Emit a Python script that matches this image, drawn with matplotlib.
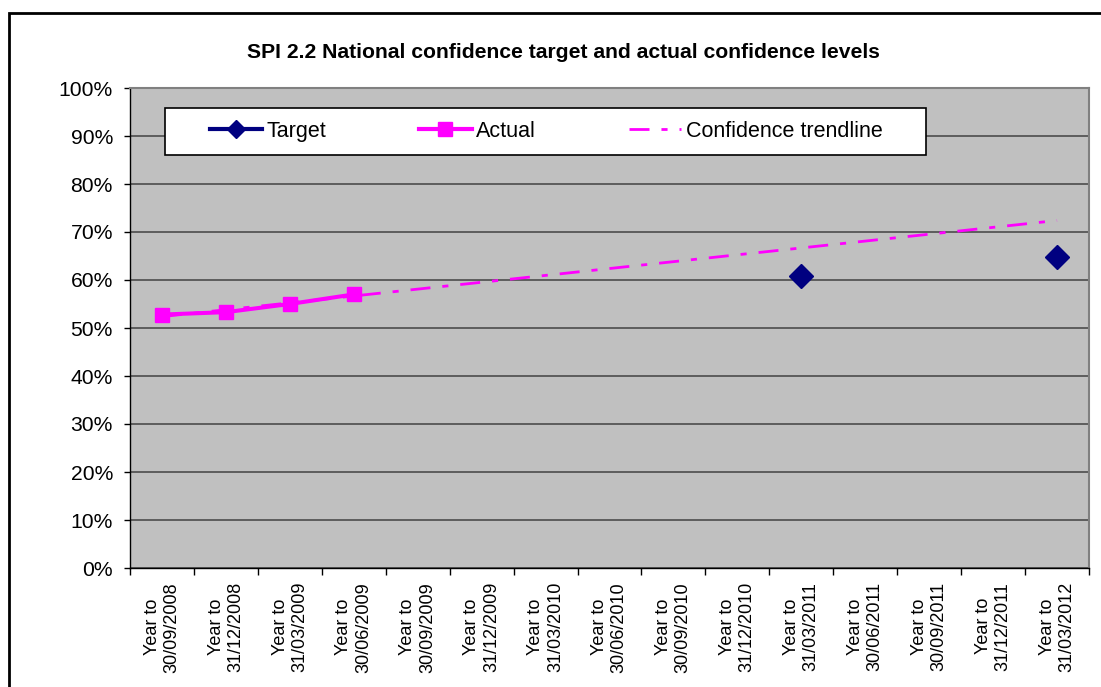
import numpy as np
import matplotlib
matplotlib.use("Agg")
import matplotlib.pyplot as plt
from matplotlib.patches import Rectangle
from matplotlib.lines import Line2D

# quarter labels on the x axis
periods = ["30/09/2008", "31/12/2008", "31/03/2009", "30/06/2009", "30/09/2009",
           "31/12/2009", "31/03/2010", "30/06/2010", "30/09/2010", "31/12/2010",
           "31/03/2011", "30/06/2011", "30/09/2011", "31/12/2011", "31/03/2012"]
# actual confidence, first four quarters
actual_idx = [0, 1, 2, 3]
actual = [0.528, 0.533, 0.550, 0.570]
# targets
target_idx = [10, 14]
target = [0.608, 0.648]

plt.rcParams['font.family'] = ['Liberation Sans', 'DejaVu Sans']

fig = plt.figure(figsize=(11.01, 6.87), dpi=100)
W, H = 1101.0, 687.0

def fx(px):
	return px / W

def fy(py):
	return 1 - py / H

# outer chart border
fig.patches.append(Rectangle((fx(9), -0.2), 1.2, fy(13) + 0.2, transform=fig.transFigure,
                             fill=False, edgecolor='black', linewidth=2, zorder=0))

ax = fig.add_axes([fx(130), fy(568), fx(1089) - fx(130), fy(88) - fy(568)])
ax.set_facecolor('#C0C0C0')

trend_style = (0, (7.2, 4.3, 2.2, 4.3))

# trendline = linear fit of the actual values, extended over all quarters
coef = np.polyfit(actual_idx, actual, 1)
xs = np.arange(len(periods))
ax.plot(xs, np.polyval(coef, xs), color='#FF00FF', linewidth=2,
        linestyle=trend_style, zorder=3)

ax.plot(actual_idx, actual, color='#FF00FF', linewidth=2.9, marker='s',
        markersize=10, markeredgewidth=1, zorder=4)
ax.plot(target_idx, target, color='#000080', linestyle='none', marker='D',
        markersize=12.5, markeredgewidth=1, zorder=4)

ax.set_xlim(-0.5, len(periods) - 0.5)
ax.set_ylim(0, 1)
ax.set_yticks(np.arange(0, 1.01, 0.1))
ax.set_yticklabels(["{:d}%".format(int(round(v * 100))) for v in np.arange(0, 1.01, 0.1)])
ax.yaxis.grid(True, color='#555555', linewidth=1.3)
ax.set_axisbelow(True)

ax.set_xticks(xs)
ax.set_xticklabels(["Year to\n" + p for p in periods], rotation=90, va='top',
                   ha='center', multialignment='center')
ax.set_xticks(np.arange(-0.5, len(periods), 1), minor=True)
ax.tick_params(axis='x', which='major', length=0, pad=10, labelsize=13)
ax.tick_params(axis='x', which='minor', length=5, width=1, direction='out')
ax.tick_params(axis='y', length=4.3, width=1, direction='out', pad=8, labelsize=15.2)

for side in ['top', 'right']:
	ax.spines[side].set_color('#808080')
	ax.spines[side].set_linewidth(1.5)
for side in ['left', 'bottom']:
	ax.spines[side].set_color('black')
	ax.spines[side].set_linewidth(1)

fig.text(fx(563), fy(52), "SPI 2.2 National confidence target and actual confidence levels",
         ha='center', va='center', fontsize=15.2, fontweight='bold')

# legend box
fig.patches.append(Rectangle((fx(165), fy(155)), fx(926) - fx(165), fy(108) - fy(155),
                             transform=fig.transFigure, facecolor='white',
                             edgecolor='black', linewidth=1.2, zorder=5))
handles = [
	Line2D([], [], color='#000080', linewidth=3, marker='D', markersize=9),
	Line2D([], [], color='#FF00FF', linewidth=3, marker='s', markersize=10),
	Line2D([], [], color='#FF00FF', linewidth=2, linestyle=trend_style),
]
leg = fig.legend(handles, ["Target", "Actual", "Confidence trendline"], ncol=3,
                 loc='center', bbox_to_anchor=(fx(546), fy(131.5)), frameon=False,
                 fontsize=15.5, handlelength=2.45, handletextpad=0.2, columnspacing=4.3)
leg.set_zorder(6)

fig.savefig("out.png", dpi=100)
